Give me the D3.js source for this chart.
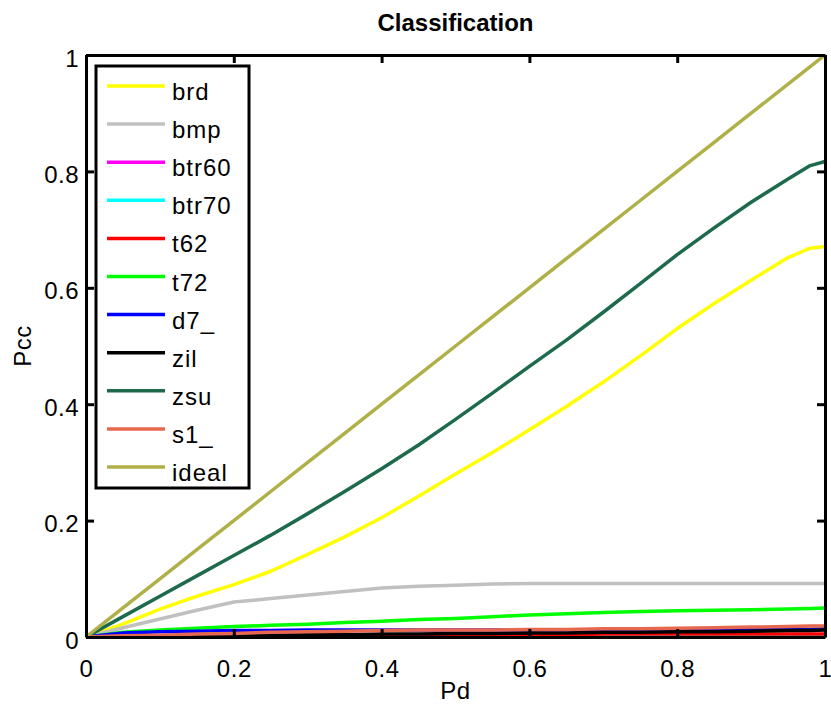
<!DOCTYPE html>
<html>
<head>
<meta charset="utf-8">
<script src="https://cdn.jsdelivr.net/npm/d3@7"></script>
<style>
  html, body { margin: 0; padding: 0; background: #fff; }
  svg text { font-family: "Liberation Sans", Arial, Helvetica, sans-serif; fill: #000; }
</style>
</head>
<body>
<svg id="chart" width="831" height="711"></svg>
<script>
// Detection probability grid shared by every class curve
const pd = [0, 0.05, 0.1, 0.15, 0.2, 0.25, 0.3, 0.35, 0.4, 0.45, 0.5, 0.55, 0.6, 0.65, 0.7, 0.75, 0.8, 0.85, 0.9, 0.95, 0.98, 1];

// Probability of correct classification per class
const brd   = [0, 0.022, 0.048, 0.07, 0.09, 0.113, 0.142, 0.172, 0.205, 0.242, 0.28, 0.317, 0.356, 0.396, 0.438, 0.483, 0.53, 0.573, 0.613, 0.652, 0.668, 0.671];
const bmp   = [0, 0.016, 0.031, 0.046, 0.06, 0.066, 0.072, 0.078, 0.084, 0.087, 0.089, 0.091, 0.092, 0.092, 0.092, 0.092, 0.092, 0.092, 0.092, 0.092, 0.092, 0.092];
const btr60 = [0, 0.001, 0.001, 0.001, 0.002, 0.002, 0.002, 0.002, 0.003, 0.003, 0.003, 0.003, 0.003, 0.003, 0.004, 0.004, 0.004, 0.004, 0.004, 0.004, 0.004, 0.004];
const btr70 = [0, 0.001, 0.001, 0.001, 0.001, 0.001, 0.002, 0.002, 0.002, 0.002, 0.002, 0.002, 0.002, 0.002, 0.002, 0.003, 0.003, 0.003, 0.003, 0.003, 0.003, 0.003];
const t62   = [0, 0.001, 0.002, 0.002, 0.002, 0.003, 0.003, 0.003, 0.003, 0.004, 0.004, 0.004, 0.004, 0.004, 0.005, 0.005, 0.005, 0.005, 0.005, 0.005, 0.005, 0.005];
const t72   = [0, 0.008, 0.012, 0.015, 0.018, 0.02, 0.022, 0.025, 0.027, 0.03, 0.032, 0.035, 0.038, 0.04, 0.042, 0.044, 0.045, 0.046, 0.047, 0.048, 0.049, 0.05];
const d7_   = [0, 0.007, 0.009, 0.01, 0.011, 0.011, 0.012, 0.012, 0.012, 0.012, 0.012, 0.012, 0.012, 0.012, 0.012, 0.012, 0.012, 0.012, 0.012, 0.013, 0.013, 0.014];
const zil   = [0, 0.001, 0.002, 0.002, 0.003, 0.003, 0.004, 0.004, 0.005, 0.005, 0.006, 0.006, 0.007, 0.007, 0.008, 0.008, 0.009, 0.009, 0.01, 0.011, 0.011, 0.012];
const zsu   = [0, 0.035, 0.07, 0.105, 0.14, 0.175, 0.212, 0.25, 0.289, 0.33, 0.374, 0.419, 0.465, 0.51, 0.558, 0.607, 0.657, 0.703, 0.747, 0.787, 0.81, 0.817];
const s1_   = [0, 0.002, 0.003, 0.005, 0.006, 0.008, 0.009, 0.01, 0.011, 0.012, 0.012, 0.012, 0.013, 0.013, 0.014, 0.014, 0.015, 0.016, 0.017, 0.018, 0.019, 0.019];
const ideal = [0, 0.05, 0.1, 0.15, 0.2, 0.25, 0.3, 0.35, 0.4, 0.45, 0.5, 0.55, 0.6, 0.65, 0.7, 0.75, 0.8, 0.85, 0.9, 0.95, 0.98, 1];

const seriesNames  = ["brd", "bmp", "btr60", "btr70", "t62", "t72", "d7_", "zil", "zsu", "s1_", "ideal"];
const seriesValues = [brd, bmp, btr60, btr70, t62, t72, d7_, zil, zsu, s1_, ideal];
const seriesColors = ["#ffff00", "#c0c0c0", "#ff00ff", "#00ffff", "#ff0000", "#00ff00", "#0000ff", "#000000", "#1d6a4c", "#e6684f", "#b0b048"];

const tickValues = [0, 0.2, 0.4, 0.6, 0.8, 1];
const tickLabels = ["0", "0.2", "0.4", "0.6", "0.8", "1"];

const svg = d3.select("#chart");
const plotLeft = 86, plotRight = 825, plotTop = 55, plotBottom = 637;
const fontPx = 24;

const x = d3.scaleLinear().domain([0, 1]).range([plotLeft, plotRight]);
const y = d3.scaleLinear().domain([0, 1]).range([plotBottom, plotTop]);

// Curves
const line = d3.line().x((d, i) => x(pd[i])).y(d => y(d));
const plot = svg.append("g");
seriesValues.forEach((vals, k) => {
  plot.append("path")
    .attr("d", line(vals))
    .attr("fill", "none")
    .attr("stroke", seriesColors[k])
    .attr("stroke-width", 3.5)
    .attr("stroke-linejoin", "round");
});

// Axes with inward ticks on all four sides
const fmt = d => tickLabels[tickValues.indexOf(d)];
const axStyle = g => {
  g.select(".domain").attr("stroke", "#000").attr("stroke-width", 3);
  g.selectAll(".tick line").attr("stroke", "#000").attr("stroke-width", 3);
  g.selectAll(".tick text").style("font-size", fontPx + "px").style("letter-spacing", "0.5px");
};
svg.append("g").attr("transform", `translate(0,${plotBottom})`)
  .call(d3.axisBottom(x).tickValues(tickValues).tickFormat(fmt).tickSizeInner(-8).tickSizeOuter(0).tickPadding(23))
  .call(axStyle);
svg.append("g").attr("transform", `translate(0,${plotTop})`)
  .call(d3.axisTop(x).tickValues(tickValues).tickFormat(() => "").tickSizeInner(-8).tickSizeOuter(0))
  .call(axStyle);
svg.append("g").attr("transform", `translate(${plotLeft},0)`)
  .call(d3.axisLeft(y).tickValues(tickValues).tickFormat(fmt).tickSizeInner(-8).tickSizeOuter(0).tickPadding(7))
  .call(axStyle)
  .call(g => g.selectAll(".tick text").attr("dy", "0.46em"));
svg.append("g").attr("transform", `translate(${plotRight},0)`)
  .call(d3.axisRight(y).tickValues(tickValues).tickFormat(() => "").tickSizeInner(-8).tickSizeOuter(0))
  .call(axStyle);

// Title and axis labels
svg.append("text").attr("x", (plotLeft + plotRight) / 2).attr("y", 31)
  .attr("text-anchor", "middle").style("font-size", fontPx + "px").style("font-weight", "bold")
  .text("Classification");
svg.append("text").attr("x", (plotLeft + plotRight) / 2).attr("y", 699)
  .attr("text-anchor", "middle").style("font-size", fontPx + "px").style("letter-spacing", "0.5px")
  .text("Pd");
svg.append("text").attr("transform", `translate(31,${(plotTop + plotBottom) / 2}) rotate(-90)`)
  .attr("text-anchor", "middle").style("font-size", fontPx + "px").style("letter-spacing", "0.5px")
  .text("Pcc");

// Legend
const legend = svg.append("g");
legend.append("rect").attr("x", 96).attr("y", 66).attr("width", 153).attr("height", 422)
  .attr("fill", "#fff").attr("stroke", "#000").attr("stroke-width", 3);
seriesNames.forEach((name, k) => {
  const ly = 86 + k * 38.1;
  legend.append("line").attr("x1", 107).attr("x2", 165).attr("y1", ly).attr("y2", ly)
    .attr("stroke", seriesColors[k]).attr("stroke-width", 3.5);
  legend.append("text").attr("x", 172).attr("y", ly + 14)
    .style("font-size", fontPx + "px").style("letter-spacing", "1px").text(name);
});
</script>
</body>
</html>
